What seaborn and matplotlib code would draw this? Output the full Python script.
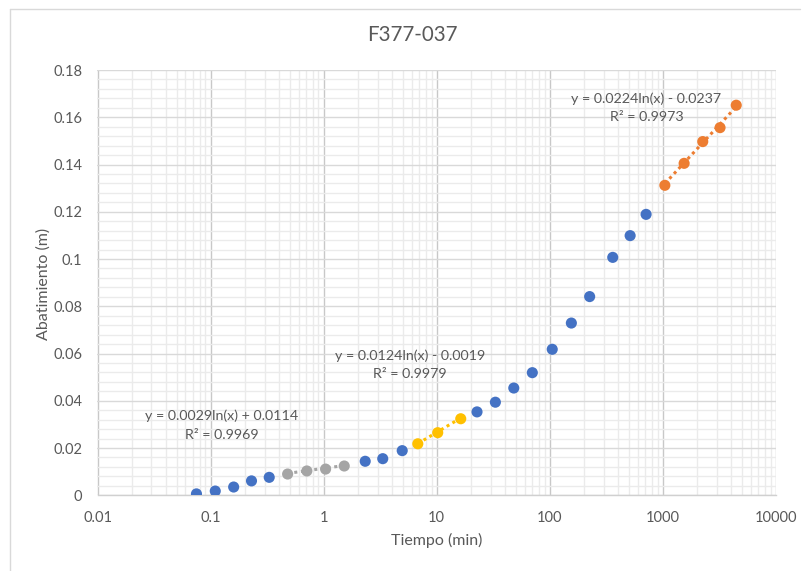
import numpy as np
import pandas as pd
import matplotlib
matplotlib.use("Agg")
import matplotlib.pyplot as plt
from matplotlib.lines import Line2D
from matplotlib.ticker import LogLocator, MultipleLocator, FuncFormatter, NullFormatter
import seaborn as sns

# Prueba de bombeo F377-037: abatimiento frente al tiempo
tiempo = [0.075, 0.11, 0.16, 0.23, 0.33,
          0.48, 0.71, 1.04, 1.52,
          2.33, 3.33, 4.95,
          6.8, 10.2, 16.3,
          22.7, 33.0, 48.0, 70.0, 105.0, 155.0, 225.0, 360.0, 513.0, 710.0,
          1040.0, 1540.0, 2250.0, 3200.0, 4450.0]
abatimiento = [0.0006, 0.0018, 0.0035, 0.0061, 0.0076,
               0.0090, 0.0103, 0.0111, 0.0124,
               0.0144, 0.0155, 0.0189,
               0.0218, 0.0265, 0.0324,
               0.0353, 0.0394, 0.0454, 0.0519, 0.0618, 0.0729, 0.0841, 0.1007, 0.1099, 0.1189,
               0.1312, 0.1405, 0.1497, 0.1556, 0.1651]
tramo = (["datos"] * 5 + ["tramo 1"] * 4 + ["datos"] * 3 + ["tramo 2"] * 3
         + ["datos"] * 10 + ["tramo 3"] * 5)

# Ajustes logarítmicos y = a ln(x) + b de cada tramo
ajuste_tramo = ["tramo 1", "tramo 2", "tramo 3"]
ajuste_a = [0.0029, 0.0124, 0.0224]
ajuste_b = [0.0114, -0.0019, -0.0237]
ajuste_r2 = [0.9969, 0.9979, 0.9973]

x_ticks = [0.01, 0.1, 1, 10, 100, 1000, 10000]

colores = {"datos": "#4472C4", "tramo 1": "#A5A5A5",
           "tramo 2": "#FFC000", "tramo 3": "#ED7D31"}
texto = "#595959"

df = pd.DataFrame({"Tiempo": tiempo, "Abatimiento": abatimiento, "Tramo": tramo})

sns.set_style("white")
plt.rcParams["font.family"] = ["Lato", "DejaVu Sans"]

W, H = 804, 571
fig = plt.figure(figsize=(W / 100, H / 100), dpi=100)
x0, x1, ytop, ybot = 97.5, 776.0, 70.0, 495.3
ax = fig.add_axes([x0 / W, (H - ybot) / H, (x1 - x0) / W, (ybot - ytop) / H])

# Líneas de tendencia (punteadas) de cada tramo
for nombre, a, b in zip(ajuste_tramo, ajuste_a, ajuste_b):
    sub = df[df["Tramo"] == nombre]
    xs = np.geomspace(sub["Tiempo"].min(), sub["Tiempo"].max(), 60)
    tend = pd.DataFrame({"x": xs, "y": a * np.log(xs) + b})
    sns.lineplot(data=tend, x="x", y="y", ax=ax, color=colores[nombre],
                 linestyle=(0, (1, 1.2)), linewidth=2.2, zorder=3, legend=False)

sns.scatterplot(data=df, x="Tiempo", y="Abatimiento", hue="Tramo",
                palette=colores, s=64, linewidth=0, ax=ax, zorder=4, legend=False)

ax.set_xscale("log")
ax.set_xlim(0.01, 10000)
ax.set_ylim(0, 0.18)
ax.set_xticks(x_ticks)
ax.xaxis.set_major_formatter(FuncFormatter(lambda v, p: f"{v:g}"))
ax.xaxis.set_minor_locator(LogLocator(base=10, subs=np.arange(2, 10)))
ax.xaxis.set_minor_formatter(NullFormatter())
ax.yaxis.set_major_locator(MultipleLocator(0.02))
ax.yaxis.set_minor_locator(MultipleLocator(0.004))
ax.yaxis.set_major_formatter(FuncFormatter(lambda v, p: f"{v:.2f}".rstrip("0").rstrip(".") if v else "0"))

ax.grid(False)
ax.grid(which="minor", axis="both", color="#ebebeb", linewidth=1.0, zorder=0)
ax.grid(which="major", axis="y", color="#d9d9d9", linewidth=1.0, zorder=1)
ax.grid(which="major", axis="x", color="#c8c8c8", linewidth=1.0, zorder=1)
ax.set_axisbelow(True)

for s in ["top", "right", "left"]:
    ax.spines[s].set_visible(False)
ax.spines["bottom"].set_color("#d0d0d0")
ax.spines["bottom"].set_linewidth(1.0)

ax.tick_params(axis="both", which="both", length=0, labelsize=10.5, labelcolor=texto)
ax.tick_params(axis="x", pad=11)
ax.tick_params(axis="y", pad=11)
ax.set_xlabel("")
ax.set_ylabel("")

def px(x, y):
    return x / W, 1 - y / H

fig.text(*px(412, 35), "F377-037", ha="center", va="center", fontsize=14.8, color=texto)
fig.text(*px(437, 540), "Tiempo (min)", ha="center", va="center", fontsize=11.5, color=texto)
fig.text(*px(44, 284), "Abatimiento (m)", ha="center", va="center", fontsize=11.5,
         color=texto, rotation=90)

# Ecuaciones de los ajustes
pos_eq = [(222, 416, 222, 435), (410, 356, 410, 374), (646, 99, 647, 117)]
for (ex, ey, rx, ry), a, b, r2 in zip(pos_eq, ajuste_a, ajuste_b, ajuste_r2):
    signo = "+" if b >= 0 else "-"
    fig.text(*px(ex, ey), f"y = {a:.4f}ln(x) {signo} {abs(b):.4f}", ha="center",
             va="center", fontsize=10.3, color=texto)
    fig.text(*px(rx, ry), f"R² = {r2:.4f}", ha="center", va="center",
             fontsize=10.3, color=texto)

# Marco del área del gráfico
fig.add_artist(Line2D([10 / W, 10 / W], [1 - 9 / H, 0], color="#d9d9d9", lw=1.0))
fig.add_artist(Line2D([10 / W, 800 / W], [1 - 9 / H, 1 - 9 / H], color="#d9d9d9", lw=1.0))

fig.savefig("out.png", dpi=100, facecolor="white")
